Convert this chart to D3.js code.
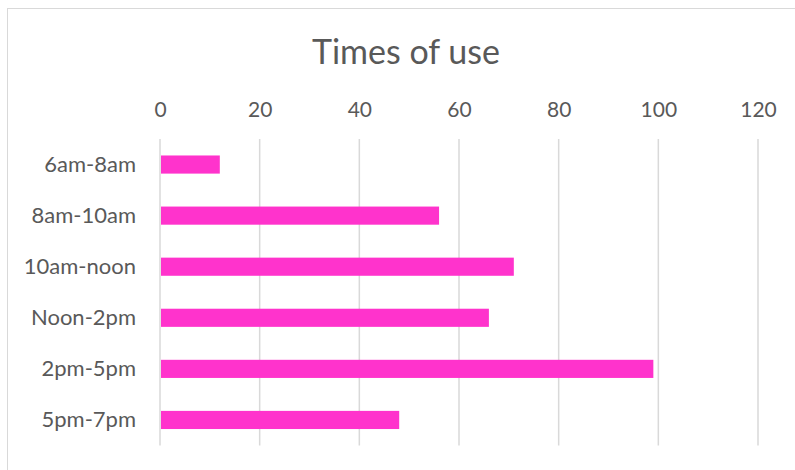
<!DOCTYPE html>
<html>
<head>
<meta charset="utf-8">
<script src="https://cdn.jsdelivr.net/npm/d3@7"></script>
<style>
  html, body { margin: 0; padding: 0; background: #fff; }
  svg { display: block; }
  text { font-family: Lato, "Open Sans", sans-serif; fill: #595959; }
</style>
</head>
<body>
<svg id="chart" width="795" height="470"></svg>
<script>
// Usage counts per time slot
const categories = ["6am-8am", "8am-10am", "10am-noon", "Noon-2pm", "2pm-5pm", "5pm-7pm"];
const values = [12, 56, 71, 66, 99, 48];
const tickValues = [0, 20, 40, 60, 80, 100, 120];
const title = "Times of use";

const svg = d3.select("#chart");
const plot = { left: 160, right: 758, top: 139, bottom: 445.5 };

// Chart area frame (runs off the right and bottom edges)
svg.append("rect")
  .attr("x", 7.5).attr("y", 8.5)
  .attr("width", 800).attr("height", 480)
  .attr("fill", "#fff")
  .attr("stroke", "#d9d9d9").attr("stroke-width", 1);

svg.append("text")
  .attr("x", 406).attr("y", 64)
  .attr("text-anchor", "middle")
  .style("font-size", "34px")
  .text(title);

const x = d3.scaleLinear().domain([0, 120]).range([plot.left, plot.right]);
const y = d3.scaleBand().domain(categories)
  .range([plot.top, plot.bottom]).paddingInner(0.645).paddingOuter(0.3225);

// Vertical gridlines
svg.append("g")
  .selectAll("line").data(tickValues).join("line")
  .attr("x1", d => x(d)).attr("x2", d => x(d))
  .attr("y1", plot.top).attr("y2", plot.bottom)
  .attr("stroke", "#d9d9d9").attr("stroke-width", 1.5);

// Value axis along the top
const xAxis = svg.append("g")
  .attr("transform", `translate(0,${plot.top})`)
  .call(d3.axisTop(x).tickValues(tickValues).tickSize(0).tickPadding(22));
xAxis.select(".domain").remove();
xAxis.selectAll("text").style("font-size", "21px").attr("fill", "#595959");

// Category axis
const yAxis = svg.append("g")
  .attr("transform", `translate(${plot.left},0)`)
  .call(d3.axisLeft(y).tickSize(0).tickPadding(24));
yAxis.select(".domain").remove();
yAxis.selectAll("text").style("font-size", "22px").attr("fill", "#595959");

// Bars
svg.append("g")
  .selectAll("rect").data(values).join("rect")
  .attr("x", x(0) + 1)
  .attr("y", (d, i) => y(categories[i]))
  .attr("width", d => x(d) - x(0) - 1)
  .attr("height", y.bandwidth())
  .attr("fill", "#ff33cc");
</script>
</body>
</html>
